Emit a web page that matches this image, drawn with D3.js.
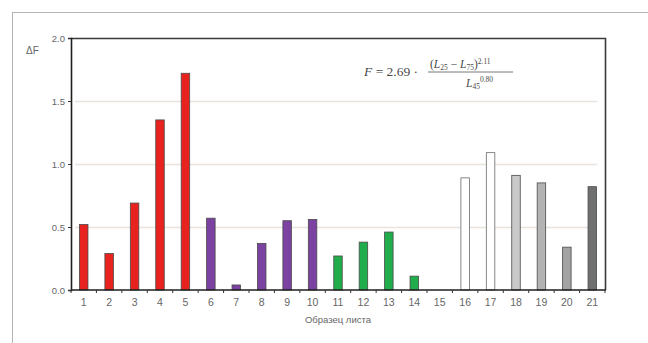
<!DOCTYPE html>
<html>
<head>
<meta charset="utf-8">
<script src="https://cdn.jsdelivr.net/npm/d3@7"></script>
<style>
  html, body { margin: 0; padding: 0; background: #fff; }
  svg { display: block; }
</style>
</head>
<body>
<svg id="chart" width="648" height="343"></svg>
<script>
// Leaf samples and their ΔF values
const samples = ["1","2","3","4","5","6","7","8","9","10","11","12","13","14","15","16","17","18","19","20","21"];
const deltaF  = [0.52,0.29,0.69,1.35,1.72,0.57,0.04,0.37,0.55,0.56,0.27,0.38,0.46,0.11,0,0.89,1.09,0.91,0.85,0.34,0.82];
const yTicks  = [0, 0.5, 1.0, 1.5, 2.0];

// Bar fills, one per sample
const fills = ["#e8231f","#e8231f","#e8231f","#e8231f","#e8231f",
               "#7b42a2","#7b42a2","#7b42a2","#7b42a2","#7b42a2",
               "#22ad4c","#22ad4c","#22ad4c","#22ad4c","#22ad4c",
               "#ffffff","#ffffff","#c9c9c9","#b3b3b3","#a3a3a3","#6f7170"];

const svg = d3.select("#chart");
const plotL = 71, plotR = 605, plotT = 38, plotB = 290;

// outer frame
svg.append("line").attr("x1", 12).attr("x2", 648).attr("y1", 12.5).attr("y2", 12.5)
  .attr("stroke", "#b4b4b4").attr("stroke-width", 1);
svg.append("line").attr("x1", 12.5).attr("x2", 12.5).attr("y1", 12).attr("y2", 343)
  .attr("stroke", "#b4b4b4").attr("stroke-width", 1);

const x = d3.scaleBand().domain(samples).range([plotL, plotR]).paddingInner(0).paddingOuter(0);
const y = d3.scaleLinear().domain([0, 2]).range([plotB, plotT]);
const barW = 8.5;

// gridlines
svg.append("g").selectAll("line")
  .data(yTicks.filter(t => t > 0 && t < 2))
  .join("line")
  .attr("x1", plotL + 4).attr("x2", plotR - 8)
  .attr("y1", d => Math.round(y(d)) + 0.5).attr("y2", d => Math.round(y(d)) + 0.5)
  .attr("stroke", "#e8e3dc").attr("stroke-width", 1.6);

// top and right border of the plot
svg.append("path")
  .attr("d", `M${plotL},${plotT + 0.5}H${plotR + 0.5}V${plotB}`)
  .attr("fill", "none").attr("stroke", "#3a3a3a").attr("stroke-width", 1.6);

// bars
svg.append("g").selectAll("rect")
  .data(samples)
  .join("rect")
  .attr("x", d => x(d) + x.bandwidth() / 2 - barW / 2)
  .attr("width", barW)
  .attr("y", (d, i) => y(deltaF[i]))
  .attr("height", (d, i) => y(0) - y(deltaF[i]))
  .attr("fill", (d, i) => fills[i])
  .attr("stroke", (d, i) => i >= 15 && i <= 16 ? "#6a6a6a" : "#4a4a4a")
  .attr("stroke-width", 0.8);

// y axis
const yAxis = svg.append("g").attr("transform", `translate(${plotL},0)`)
  .call(d3.axisLeft(y).tickValues(yTicks).tickFormat(d3.format(".1f")).tickSize(3).tickPadding(3));
yAxis.select(".domain").attr("stroke", "#1e1e1e").attr("stroke-width", 1.6);
yAxis.selectAll(".tick line").attr("stroke", "#333");
yAxis.selectAll("text").attr("font-family", "Arial, Liberation Sans, sans-serif")
  .attr("font-size", 9.5).attr("fill", "#666");

// x axis: ticks between samples, labels centred under bars
const xAxisG = svg.append("g").attr("transform", `translate(0,${plotB})`);
xAxisG.append("line").attr("x1", plotL).attr("x2", plotR + 1).attr("y1", 0).attr("y2", 0)
  .attr("stroke", "#1e1e1e").attr("stroke-width", 1.6);
const bounds = samples.map(s => x(s)).concat([plotR]);
xAxisG.selectAll("line.tk").data(bounds).join("line").attr("class", "tk")
  .attr("x1", d => d).attr("x2", d => d).attr("y1", 0).attr("y2", 3)
  .attr("stroke", "#333").attr("stroke-width", 1);
xAxisG.selectAll("text").data(samples).join("text")
  .attr("x", d => x(d) + x.bandwidth() / 2)
  .attr("y", 16)
  .attr("text-anchor", "middle")
  .attr("font-family", "Arial, Liberation Sans, sans-serif")
  .attr("font-size", 10.5).attr("fill", "#666")
  .text(d => d);

// axis titles
svg.append("text").attr("x", (plotL + plotR) / 2).attr("y", 323)
  .attr("text-anchor", "middle")
  .attr("font-family", "Arial, Liberation Sans, sans-serif")
  .attr("font-size", 9.5).attr("fill", "#666")
  .text("Образец листа");
svg.append("text").attr("x", 26).attr("y", 54)
  .attr("font-family", "Arial, Liberation Sans, sans-serif")
  .attr("font-size", 10).attr("fill", "#666")
  .text("ΔF");

// formula
const f = svg.append("g").attr("font-family", "Liberation Serif, Times New Roman, serif").attr("fill", "#4a4a4a");
f.append("text").attr("x", 364).attr("y", 76).attr("font-size", 13.5)
  .html('<tspan font-style="italic">F</tspan> = 2.69 ·');
const num = f.append("text").attr("x", 430).attr("y", 68).attr("font-size", 11.5);
num.append("tspan").text("(");
num.append("tspan").attr("font-style", "italic").text("L");
num.append("tspan").attr("font-size", 7.5).attr("dy", 2).text("25");
num.append("tspan").attr("dy", -2).text(" − ");
num.append("tspan").attr("font-style", "italic").text("L");
num.append("tspan").attr("font-size", 7.5).attr("dy", 2).text("75");
num.append("tspan").attr("dy", -2).text(")");
num.append("tspan").attr("font-size", 7.5).attr("dy", -4).text("2.11");
f.append("line").attr("x1", 428).attr("x2", 513).attr("y1", 72).attr("y2", 72)
  .attr("stroke", "#555").attr("stroke-width", 0.8);
const den = f.append("text").attr("x", 466).attr("y", 87).attr("font-size", 11.5);
den.append("tspan").attr("font-style", "italic").text("L");
den.append("tspan").attr("font-size", 7.5).attr("dy", 2).text("45");
den.append("tspan").attr("font-size", 7.5).attr("dy", -7).text("0.80");
</script>
</body>
</html>
